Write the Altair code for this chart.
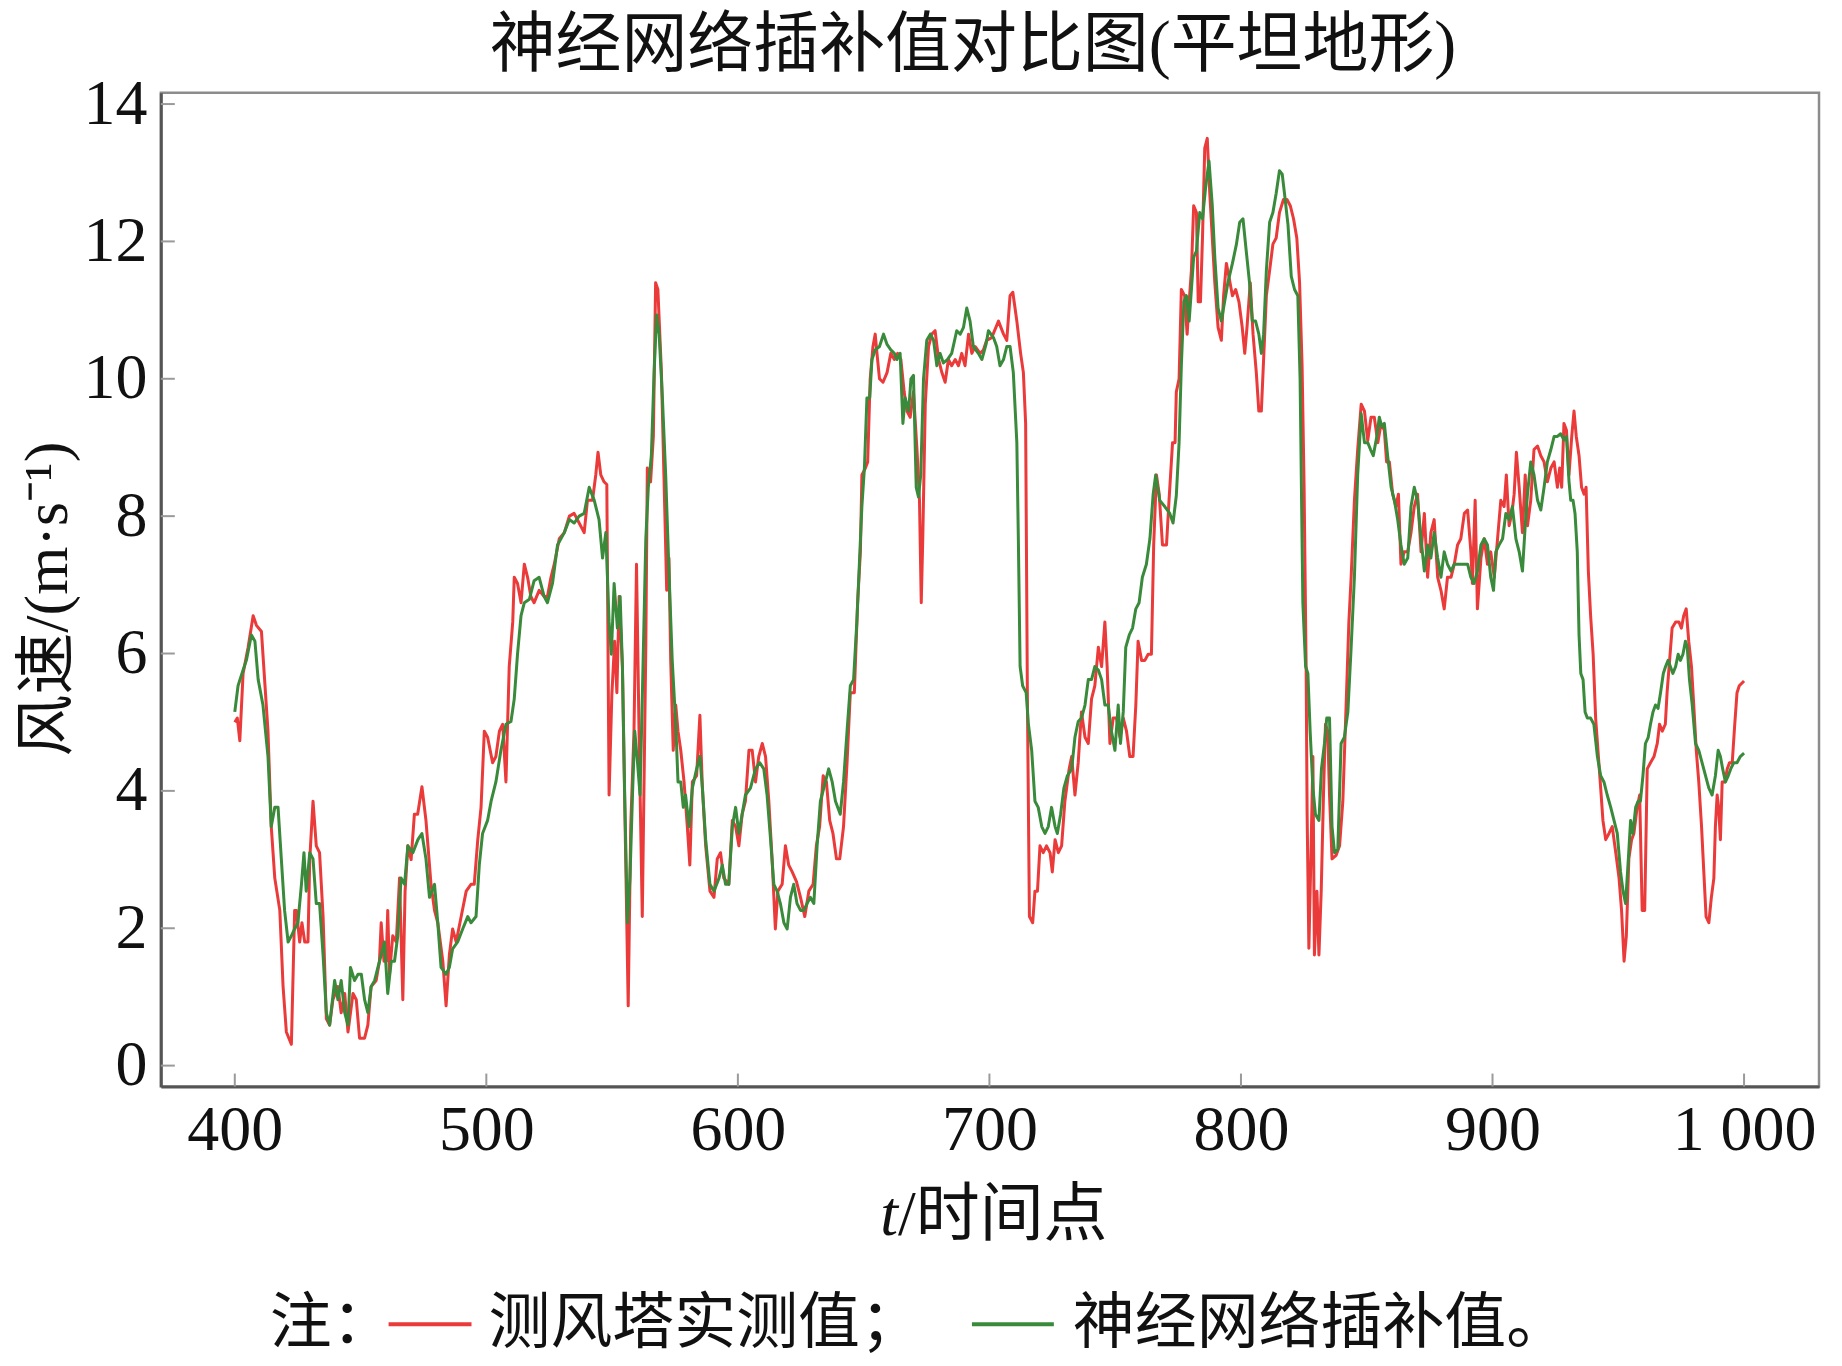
import altair as alt
import pandas as pd

# ---- data ----
red_t = [400, 401, 402, 403.3, 405.3, 407.3, 408.6, 410.6, 413.2, 414.5, 415.9, 417.9, 419.2, 420.5, 422.5,
         423.8, 424.5, 425.8, 426.7, 427.8, 429.1, 429.8, 431.1, 432.4, 433.7, 435.1, 436.4, 437.7, 439, 441,
         442.3, 443.7, 445, 447, 448.3, 449.6, 451.6, 452.9, 454.2, 456.2, 457.5, 458.2, 459.3, 460.2, 460.8,
         461.5, 462.8, 464.2, 465.5, 466.8, 467.7, 468.8, 470.1, 471.4, 472.7, 474.4, 476, 478, 479.4, 480.7,
         482.7, 484, 485.3, 486.6, 488, 490, 492, 493.9, 495.2, 496.6, 497.9, 499.2, 500.5, 502.5, 503.8,
         505.2, 506.5, 507.8, 509.1, 510.5, 511.1, 512.4, 513.8, 515.1, 516.4, 517.7, 519, 521, 523, 524.3,
         525.7, 527, 529, 531, 533, 534.9, 536.9, 538.9, 540.2, 542.2, 543.5, 544.4, 545.5, 546.8, 547.9,
         548.8, 549.9, 551, 551.9, 552.8, 554.1, 555.4, 556.4, 557.4, 558.7, 559.7, 560.7, 562, 563.4, 564,
         565.3, 566.4, 567.3, 568.2, 569.6, 570.6, 571.7, 572.6, 573.3, 574.3, 575.3, 576.2, 577.3, 578.6,
         579.9, 580.9, 581.9, 583.6, 584.9, 585.9, 587.2, 588.9, 590.5, 591.8, 593.1, 594.4, 596.4, 597.8,
         599.1, 600.4, 601.7, 603, 604.4, 605.7, 607, 608.3, 609.7, 611, 612.3, 613.6, 614.9, 615.9, 617.6,
         618.9, 620.2, 621.6, 623.3, 624.9, 626.6, 628.2, 629.9, 631.2, 632.5, 633.9, 635.2, 636.5, 637.8,
         639.2, 640.5, 642, 643.4, 644.7, 646.3, 647.6, 648.7, 649.3, 650.7, 651.6, 652.6, 653.7, 654.6,
         655.3, 656.3, 657.7, 659.3, 660.8, 662.2, 663.5, 664.8, 666.1, 667.2, 668.5, 669.8, 671.2, 672.2,
         672.9, 673.5, 674.5, 675.8, 677.1, 678.4, 679.8, 681.1, 682.4, 683.7, 685, 686.4, 687.7, 689, 690.3,
         691.7, 693, 694.3, 696.3, 697.6, 698.9, 700.9, 703.6, 705.6, 706.9, 708.2, 709.3, 710.9, 712.4,
         713.5, 714.4, 715.1, 715.9, 717.2, 718.1, 719.1, 720.1, 721.4, 722.7, 724.1, 725, 726.1, 727.4,
         728.7, 730, 731.7, 732.7, 734, 735.3, 736.6, 738, 739.3, 740.6, 741.9, 743.3, 744.6, 745.9, 746.8,
         747.9, 749.2, 750.5, 751.9, 753.2, 754.5, 755.8, 757.1, 758.2, 759.1, 760.5, 761.8, 763.1, 764.4,
         765.3, 766.4, 767.5, 768.8, 770.4, 771.4, 772.8, 773.8, 774.3, 775.4, 776.3, 777.6, 778.6, 779.4,
         780.3, 781.2, 782.3, 783, 783.9, 784.7, 785.6, 786.6, 787.6, 788.6, 789.6, 790.9, 792.2, 793.1,
         794.2, 795.2, 796.6, 797.9, 799.2, 800.5, 801.5, 802.4, 803.7, 804.8, 806.1, 807.1, 808.1, 809,
         810.1, 811.4, 812.7, 814, 815.3, 816.9, 818.3, 819.6, 820.9, 822.2, 823.3, 824.3, 825.1, 825.9,
         826.3, 827, 827.9, 828.6, 829.2, 830.2, 831, 831.9, 832.8, 833.6, 834.5, 835.2, 836.2, 837.8, 839.2,
         840.5, 841.8, 842.9, 843.8, 845.1, 846.4, 847.8, 849.1, 850.4, 851.7, 853, 854.4, 855.7, 857, 857.9,
         859, 860.3, 861.6, 862.6, 863.6, 864.9, 866.3, 867.6, 868.9, 870.2, 871.6, 872.9, 874.2, 875.5,
         876.8, 878.2, 879.5, 880.8, 882.1, 883.5, 884.8, 886.1, 887.4, 888.8, 890.1, 891.4, 892, 893.1, 894,
         895.4, 896.7, 898, 899.3, 900.7, 902, 903.3, 904.6, 905.5, 906.6, 907.7, 908.6, 909.5, 910.6, 911.9,
         913, 913.9, 915.2, 916.5, 917.9, 919.2, 920.5, 921.8, 923.2, 924.5, 925.8, 926.7, 927.5, 928.4,
         929.4, 930.4, 931.5, 932.4, 933.3, 934.4, 935.4, 936.4, 937.2, 938.1, 939, 940, 941, 942.1, 943,
         943.9, 945, 946.3, 947.6, 949, 950.3, 951.3, 952.3, 953.2, 954.2, 955.3, 956.2, 957.5, 958.5, 959.5,
         960.5, 961.5, 962.8, 964.2, 965.5, 966.4, 967.5, 968.7, 969.4, 970.4, 971.4, 972.8, 974.1, 975.1,
         976, 977, 978, 979.1, 980, 981, 982, 983.1, 984, 984.9, 986, 987, 988, 988.6, 989.3, 989.9, 990.6,
         991.3, 992.4, 993.3, 994.2, 995.3, 996.3, 997.2, 998.1, 1000]
red_v = [5.0, 5.06, 4.73, 5.71, 6.09, 6.55, 6.41, 6.32, 4.87, 3.48, 2.73, 2.26, 1.15, 0.49, 0.31,
         2.26, 2.26, 1.8, 2.08, 1.8, 1.8, 3.0, 3.85, 3.2, 3.1, 2.17, 0.68, 0.59, 0.96, 1.15,
         0.77, 1.05, 0.49, 1.05, 0.96, 0.40, 0.40, 0.59, 1.15, 1.24, 1.52, 2.08, 1.52, 1.52, 2.26,
         1.33, 1.89, 1.8, 2.73, 0.96, 2.54, 3.2, 3.0, 3.66, 3.66, 4.06, 3.57, 2.64, 2.26, 2.08,
         1.52, 0.87, 1.61, 1.99, 1.8, 2.17, 2.54, 2.64, 2.64, 3.29, 3.76, 4.87, 4.78, 4.41, 4.5,
         4.87, 4.97, 4.13, 5.81, 6.46, 7.11, 7.02, 6.74, 7.3, 7.11, 6.83, 6.74, 6.92, 6.83, 6.83,
         7.11, 7.3, 7.67, 7.76, 8.0, 8.04, 7.9, 7.76, 8.23, 8.23, 8.6, 8.93, 8.6, 8.5, 8.46,
         3.94, 5.4, 6.18, 5.43, 6.83, 5.81, 3.01, 0.87, 3.48, 4.87, 7.3, 4.87, 2.17, 6.09, 8.7,
         8.5, 9.16, 11.4, 11.3, 10.1, 8.6, 6.92, 7.39, 5.9, 4.59, 5.25, 4.87, 4.59, 4.13,
         3.48, 2.92, 4.13, 4.22, 5.1, 4.04, 3.2, 2.54, 2.45, 3.01, 3.1, 2.73, 2.64, 3.57,
         3.48, 3.2, 3.66, 3.85, 4.59, 4.59, 4.13, 4.5, 4.69, 4.5, 3.85, 3.01, 1.99, 2.54, 2.64,
         3.2, 2.92, 2.82, 2.68, 2.45, 2.17, 2.54, 2.64, 3.2, 3.48, 4.22, 4.13, 3.57, 3.38,
         3.01, 3.01, 3.48, 4.41, 5.43, 5.43, 6.74, 7.48, 8.6, 8.7, 8.79, 10.0, 10.47, 10.65,
         10.37, 10.0, 9.95, 10.09, 10.37, 10.28, 10.37, 10.28, 9.81, 9.53, 9.44, 9.81, 8.97, 8.23,
         6.74, 7.67, 9.63, 10.47, 10.65, 10.7, 10.28, 10.09, 9.95, 10.28, 10.19, 10.28, 10.19, 10.37, 10.19,
         10.65, 10.37, 10.47, 10.37, 10.42, 10.56, 10.6, 10.84, 10.65, 10.56, 11.21, 11.26, 10.84, 10.37,
         10.09, 9.35, 5.34, 2.17, 2.08, 2.54, 2.54, 3.2, 3.1, 3.2, 3.1, 2.82, 3.29, 3.1,
         3.2, 3.85, 4.32, 4.5, 3.94, 4.41, 5.15, 4.78, 4.69, 5.34, 5.53, 6.09, 5.81, 6.46, 5.81,
         4.69, 5.06, 5.06, 4.78, 5.06, 4.87, 4.5, 4.5, 5.25, 6.18, 5.9, 5.9, 5.99, 5.99,
         7.58, 8.6, 8.32, 7.58, 7.58, 8.23, 9.07, 9.07, 9.81, 10.0, 11.3, 11.21, 10.65, 11.12,
         11.58, 12.52, 12.42, 11.12, 11.12, 12.05, 13.36, 13.5, 12.7, 12.05, 11.4, 10.75, 10.56, 11.21,
         11.68, 11.49, 11.21, 11.3, 11.12, 10.75, 10.37, 10.75, 11.4, 10.65, 10.09, 9.53, 9.53, 10.28,
         11.21, 11.58, 11.96, 12.05, 12.42, 12.61, 12.61, 12.52, 12.33, 12.05, 11.4, 10.19, 8.42, 5.81,
         3.66, 1.71, 3.2, 4.5, 1.61, 2.54, 1.61, 2.54, 3.94, 4.97, 4.87, 3.94, 3.01, 3.06, 3.2,
         3.85, 5.25, 6.46, 7.11, 8.23, 8.97, 9.63, 9.53, 9.1, 9.44, 9.44, 9.07, 9.35, 9.25, 8.79,
         8.79, 8.32, 8.14, 8.32, 7.3, 7.48, 7.48, 7.76, 8.14, 8.32, 7.48, 8.04, 7.11, 7.76,
         7.95, 7.11, 6.92, 6.65, 7.11, 7.11, 7.3, 7.58, 7.67, 8.04, 8.09, 7.48, 7.02, 8.23, 6.65,
         7.39, 7.67, 7.3, 7.48, 7.11, 7.67, 8.23, 8.14, 8.6, 7.86, 8.04, 8.32, 8.93, 8.42, 7.76,
         8.6, 7.86, 8.23, 8.97, 9.02, 8.88, 8.79, 8.5, 8.7, 8.79, 8.42, 8.7, 8.42, 9.35,
         9.25, 8.6, 9.16, 9.53, 9.16, 8.88, 8.42, 8.32, 8.42, 7.2, 6.55, 5.99, 5.06, 4.5, 4.04,
         3.57, 3.29, 3.38, 3.48, 3.1, 2.73, 2.26, 1.52, 1.89, 3.01, 3.29, 3.38, 3.76, 3.94, 2.26,
         2.26, 4.32, 4.41, 4.5, 4.69, 4.97, 4.87, 4.97, 5.43, 5.9, 6.37, 6.46, 6.46, 6.37,
         6.55, 6.65, 6.18, 5.81, 5.25, 4.59, 4.13, 3.48, 2.82, 2.17, 2.08, 2.45, 2.73, 3.48, 3.94, 3.76, 3.29,
         4.13, 4.13, 4.32, 4.41, 4.41, 4.97, 5.43, 5.53, 5.6]

green_t = [400, 401.3, 403.3, 404.6, 406.6, 408, 409.3, 411.2, 413.2, 414.5, 415.9, 417.2, 418.5, 419.8,
           421.2, 422.5, 423.8, 425.1, 426.5, 427.5, 428.4, 429.8, 431.1, 432.4, 433.7, 435.1, 436.4, 437.7,
           439.7, 441, 442.3, 443.7, 445, 446, 447.6, 449, 450.3, 451.6, 452.9, 454.2, 455.6, 456.9, 458.2,
           459.5, 460.8, 462.2, 463.5, 464.8, 466.1, 467.5, 468.8, 470.8, 472.8, 474.4, 476, 477.4, 479.4,
           480.7, 482, 484, 485.3, 486.6, 488.6, 490.6, 492.6, 493.9, 495.9, 497.2, 498.5, 500.5, 501.9,
           503.8, 505.8, 507.8, 509.8, 511.1, 512.4, 513.8, 515.1, 517.1, 519, 521, 523, 524.3, 526.3, 528.3,
           531, 533, 534.9, 536.9, 538.9, 540.9, 542.9, 544.8, 546.2, 547.5, 548.8, 549.7, 550.8, 552.1,
           553.2, 554.1, 555, 556.1, 557.1, 558.1, 559, 560.1, 561.1, 562, 563.4, 564.4, 565.6, 566.7, 567.7,
           568.7, 570, 571.3, 572.6, 573.9, 575.3, 576.2, 577.3, 578.3, 579.2, 580.6, 581.9, 583.6, 584.9,
           585.9, 587.2, 588.9, 590.5, 592.5, 593.8, 595.1, 596.4, 597.8, 599.1, 600.4, 601.7, 603, 605, 607,
           608.7, 610.3, 611.6, 613, 614.3, 615.6, 616.9, 618.3, 619.6, 620.9, 622.2, 623.5, 624.9, 626.2,
           627.5, 628.8, 630.2, 631.5, 632.8, 634.8, 636.1, 637.5, 638.8, 640.7, 642, 643.4, 644.7, 646,
           647.3, 648.4, 649.3, 650.3, 651.3, 652.4, 653.3, 654.6, 656.3, 657.9, 659.3, 660.8, 662.2, 663.2,
           664.5, 665.6, 666.5, 667.9, 668.8, 669.8, 670.9, 671.8, 672.7, 673.8, 675.1, 676.5, 677.8, 679.1,
           680.4, 681.7, 683.3, 685, 687, 688.4, 689.7, 691, 692.3, 693.6, 695.6, 697, 698.7, 699.6, 701.6,
           702.9, 704.2, 705.6, 706.9, 708.2, 709.5, 710.9, 711.5, 712.2, 713.2, 714.6, 715.5, 716.8, 718.1,
           719.4, 720.8, 722.1, 723.4, 724.7, 726.1, 727, 728.3, 729.6, 731, 732.7, 734, 735.3, 736.6, 738,
           739.3, 740.6, 741.9, 743.3, 744.6, 745.9, 747.2, 748.5, 749.9, 751.2, 752.1, 753.2, 754.2, 755.6,
           756.9, 758.2, 759.5, 760.8, 762.4, 763.8, 765.1, 766.1, 767.7, 769.7, 771.7, 773, 774.3, 775.4,
           776.3, 777.3, 778.3, 779.4, 780.3, 781.2, 782.3, 783.6, 784.7, 786, 787.3, 788.6, 789.6, 790.9,
           792.2, 793.5, 794.8, 796.6, 798.2, 799.5, 800.8, 802.1, 803.4, 804.5, 805.8, 807.1, 808.1, 809,
           810.1, 811.4, 812.7, 814, 815.3, 816.4, 817.3, 818.7, 820, 821.3, 822.6, 823.5, 824.6, 825.7,
           826.6, 827.5, 828.6, 829.6, 831, 832, 833.2, 834.1, 835.2, 836.2, 837.2, 838.5, 839.8, 841.1,
           842.5, 843.8, 845.1, 846.4, 847.8, 849.1, 850.4, 851.5, 852.6, 854, 855, 856, 857, 858.3, 859.7,
           861, 862.3, 863.6, 864.9, 866.3, 867.6, 868.9, 870.2, 871.6, 872.9, 874.2, 875.5, 876.8, 878.2,
           879.5, 880.8, 882.1, 883.5, 884.8, 886.1, 887.4, 888.8, 890.1, 891.4, 892.7, 894, 895.4, 896.7,
           898, 899.3, 900.4, 901.3, 902.6, 904, 905.3, 906.6, 907.9, 909.3, 910.6, 911.9, 913, 913.9, 915.2,
           916.5, 917.9, 919.2, 920.5, 921.8, 923.2, 924.5, 925.8, 927.1, 928.4, 929.4, 930.4, 931.1, 932,
           932.8, 933.7, 934.4, 935.1, 936, 936.8, 937.7, 939, 940.3, 941.7, 943, 944.3, 945.6, 947, 948.3,
           949.6, 950.9, 951.9, 952.9, 954, 954.9, 955.8, 956.9, 957.9, 958.8, 959.8, 960.8, 961.9, 962.8,
           963.8, 964.8, 965.8, 966.8, 967.9, 968.8, 969.8, 970.7, 971.7, 972.8, 973.8, 974.7, 975.7, 976.7,
           977.4, 978.3, 979.4, 980.7, 982, 983.3, 984.7, 986, 987.3, 988.6, 989.7, 990.6, 991.5, 992.6,
           993.7, 994.7, 995.9, 997.2, 998.5, 1000]
green_v = [5.15, 5.53, 5.76, 5.9, 6.27, 6.18, 5.62, 5.25, 4.5, 3.48, 3.76, 3.76, 3.01, 2.26,
           1.8, 1.89, 1.99, 2.08, 2.64, 3.1, 2.54, 3.1, 3.01, 2.36, 2.36, 1.61, 0.77, 0.59,
           1.24, 0.96, 1.24, 0.77, 0.59, 1.43, 1.24, 1.33, 1.33, 0.96, 0.77, 1.15, 1.24, 1.43, 1.61,
           1.8, 1.05, 1.52, 1.52, 1.89, 2.73, 2.64, 3.2, 3.1, 3.29, 3.38, 3.01, 2.45, 2.64,
           2.08, 1.43, 1.33, 1.43, 1.7, 1.8, 1.99, 2.17, 2.08, 2.17, 2.92, 3.38, 3.57, 3.85,
           4.13, 4.59, 4.97, 5.01, 5.34, 5.99, 6.55, 6.74, 6.79, 7.06, 7.11, 6.83, 6.74, 7.02, 7.58,
           7.76, 7.95, 7.9, 8.0, 8.04, 8.42, 8.23, 7.95, 7.39, 7.76, 6.46, 5.99, 7.02, 6.37,
           6.83, 5.81, 3.94, 2.08, 2.73, 3.94, 4.87, 4.41, 3.94, 5.34, 7.67, 8.42, 8.88, 10.1, 10.93,
           10.65, 9.72, 8.6, 7.2, 5.9, 4.97, 4.13, 4.13, 3.76, 3.94, 3.48, 4.04, 4.32, 4.5,
           4.04, 3.29, 2.64, 2.54, 2.73, 2.92, 2.64, 2.64, 3.48, 3.76, 3.38, 3.66, 3.94, 4.04, 4.32,
           4.41, 4.32, 3.94, 3.29, 2.64, 2.54, 2.36, 2.08, 1.99, 2.45, 2.64, 2.36, 2.26, 2.26,
           2.36, 2.45, 2.36, 3.2, 3.85, 4.13, 4.32, 4.13, 3.85, 3.66, 4.13, 4.87, 5.53, 5.62,
           6.46, 7.39, 8.14, 8.7, 9.72, 9.72, 10.28, 10.42, 10.47, 10.65, 10.5, 10.42, 10.37, 10.28,
           10.37, 9.35, 9.72, 9.53, 10.0, 10.05, 8.42, 8.28, 8.6, 10.0, 10.56, 10.65, 10.56, 10.19,
           10.37, 10.23, 10.28, 10.37, 10.7, 10.65, 10.75, 11.03, 10.84, 10.47, 10.37, 10.28, 10.51, 10.7, 10.6,
           10.47, 10.19, 10.28, 10.47, 10.47, 10.09, 9.07, 7.67, 5.81, 5.53, 5.43, 4.97, 4.59, 3.85,
           3.76, 3.48, 3.38, 3.48, 3.76, 3.48, 3.38, 3.66, 4.04, 4.22, 4.32, 4.78, 5.01, 5.06, 5.25,
           5.62, 5.62, 5.81, 5.76, 5.62, 5.25, 5.25, 4.87, 4.59, 5.25, 4.69, 5.15, 6.09, 6.27,
           6.37, 6.65, 6.74, 7.11, 7.3, 7.67, 8.32, 8.6, 8.23, 8.14, 8.04, 7.9, 8.3, 9.07,
           10.19, 11.12, 11.21, 10.84, 11.3, 11.77, 11.86, 12.42, 12.33, 12.8, 13.17, 12.52, 11.77, 11.03,
           10.84, 11.12, 11.4, 11.68, 11.96, 12.28, 12.33, 11.86, 11.4, 10.84, 10.84, 10.65, 10.37, 10.65,
           11.58, 12.28, 12.42, 12.7, 13.03, 12.98, 12.7, 12.24, 11.49, 11.3, 11.21, 10.0, 6.74, 5.81,
           5.71, 4.87, 4.04, 3.66, 3.57, 4.32, 4.69, 5.06, 5.06, 3.48, 3.1, 3.15, 4.69, 4.78,
           5.15, 6.09, 7.11, 8.6, 9.49, 9.07, 9.07, 8.97, 8.88, 9.16, 9.44, 9.3, 9.35, 8.88, 8.42,
           8.23, 7.95, 7.58, 7.3, 7.39, 8.14, 8.42, 8.23, 7.67, 7.2, 7.58, 7.39, 7.76, 7.39,
           7.11, 7.48, 7.3, 7.2, 7.3, 7.3, 7.3, 7.3, 7.3, 7.11, 7.02, 7.2, 7.58, 7.67,
           7.58, 7.11, 6.92, 7.48, 7.58, 7.67, 8.04, 7.95, 8.14, 7.67, 7.48, 7.2, 7.86, 8.32, 8.79,
           8.6, 8.23, 8.09, 8.42, 8.79, 8.97, 9.16, 9.16, 9.2, 9.11, 9.16, 8.51, 8.23, 8.23,
           8.04, 7.48, 6.27, 5.71, 5.62, 5.15, 5.06, 5.06, 4.97, 4.5, 4.22, 4.13, 3.94, 3.76, 3.57,
           3.38, 2.82, 2.54, 2.36, 3.01, 3.57, 3.38, 3.76, 3.85, 3.85, 4.22, 4.69, 4.78, 4.97,
           5.15, 5.25, 5.2, 5.43, 5.71, 5.81, 5.9, 5.81, 5.71, 5.81, 5.99, 5.9, 5.99, 6.18,
           6.1, 5.62, 5.25, 4.69, 4.59, 4.41, 4.22, 4.04, 3.94, 4.22, 4.59, 4.5, 4.32, 4.13,
           4.22, 4.32, 4.41, 4.41, 4.5, 4.55]

x_ticks = [400, 500, 600, 700, 800, 900, 1000]
y_ticks = [0, 2, 4, 6, 8, 10, 12, 14]

title_text = "神经网络插补值对比图(平坦地形)"
y_title = "风速/(m·s⁻¹)"
x_title_var = "t"
x_title_rest = "/时间点"
note_text = "注："
red_name = "测风塔实测值；"
green_name = "神经网络插补值。"

RED = "#ea3a3a"
GREEN = "#3a8a3b"
W, H = 1660, 995
SERIF_CJK = "Liberation Serif, Noto Sans CJK SC"

df_red = pd.DataFrame({"t": red_t, "v": red_v})
df_green = pd.DataFrame({"t": green_t, "v": green_v})

xscale = alt.Scale(domain=[370.6, 1029.8], nice=False, zero=False)
yscale = alt.Scale(domain=[-0.305, 14.166], nice=False, zero=False)

x_axis = alt.Axis(values=x_ticks, title=None, grid=False, ticks=False, labelPadding=12,
                  labelExpr="datum.value == 1000 ? '1 000' : datum.label")
y_axis = alt.Axis(values=y_ticks, title=None, grid=False, ticks=False, labelPadding=14)

red_line = alt.Chart(df_red).mark_line(color=RED, strokeWidth=3, strokeJoin="round").encode(
    x=alt.X("t:Q", scale=xscale, axis=x_axis),
    y=alt.Y("v:Q", scale=yscale, axis=y_axis),
)
green_line = alt.Chart(df_green).mark_line(color=GREEN, strokeWidth=3, strokeJoin="round").encode(
    x=alt.X("t:Q", scale=xscale, axis=x_axis),
    y=alt.Y("v:Q", scale=yscale, axis=y_axis),
)

# inward tick marks
ytick_rules = alt.Chart(pd.DataFrame({"v": y_ticks})).mark_rule(color="#9a9a9a", strokeWidth=2).encode(
    y=alt.Y("v:Q", scale=yscale, axis=y_axis),
    x=alt.value(0), x2=alt.value(14),
)
xtick_rules = alt.Chart(pd.DataFrame({"t": x_ticks})).mark_rule(color="#9a9a9a", strokeWidth=2).encode(
    x=alt.X("t:Q", scale=xscale, axis=x_axis),
    y=alt.value(H), y2=alt.value(H - 13),
)

def text_layer(txt, x, y, size=62, align="center", font=SERIF_CJK, angle=None, style=None):
    kw = dict(fontSize=size, align=align, baseline="middle", font=font, color="#111")
    if angle is not None:
        kw["angle"] = angle
    if style is not None:
        kw["fontStyle"] = style
    return alt.Chart(pd.DataFrame({"s": [txt]})).mark_text(**kw).encode(
        text="s:N", x=alt.value(x), y=alt.value(y))

title = text_layer(title_text, 813, -47, size=66)
ytitle = text_layer(y_title, -113, 507, size=62, angle=270)
xt1 = text_layer(x_title_var, 738, 1125, size=64, align="right", font="Liberation Serif", style="italic")
xt2 = text_layer(x_title_rest, 738, 1125, size=64, align="left")
note = text_layer(note_text, 109, 1233, size=62, align="left")
red_lbl = text_layer(red_name, 328, 1233, size=62, align="left")
green_lbl = text_layer(green_name, 913, 1233, size=62, align="left")

red_key = alt.Chart(pd.DataFrame({"k": [1]})).mark_rule(color=RED, strokeWidth=4).encode(
    x=alt.value(228), x2=alt.value(311), y=alt.value(1233))
green_key = alt.Chart(pd.DataFrame({"k": [1]})).mark_rule(color=GREEN, strokeWidth=4).encode(
    x=alt.value(812), x2=alt.value(894), y=alt.value(1233))

chart = alt.layer(
    red_line, green_line, ytick_rules, xtick_rules,
    title, ytitle, xt1, xt2, note, red_lbl, green_lbl, red_key, green_key,
).properties(
    width=W, height=H,
    padding={"left": 153, "top": 84, "right": 15, "bottom": 275},
    autosize=alt.AutoSizeParams(type="none"),
).configure_view(
    stroke="#8c8c8c", strokeWidth=2.5
).configure_axis(
    domainColor="#555555", domainWidth=3,
    labelFont="Liberation Serif", labelFontSize=64, labelColor="#111111",
)

chart.save("out.html", embed_options={"renderer": "svg", "actions": False})
